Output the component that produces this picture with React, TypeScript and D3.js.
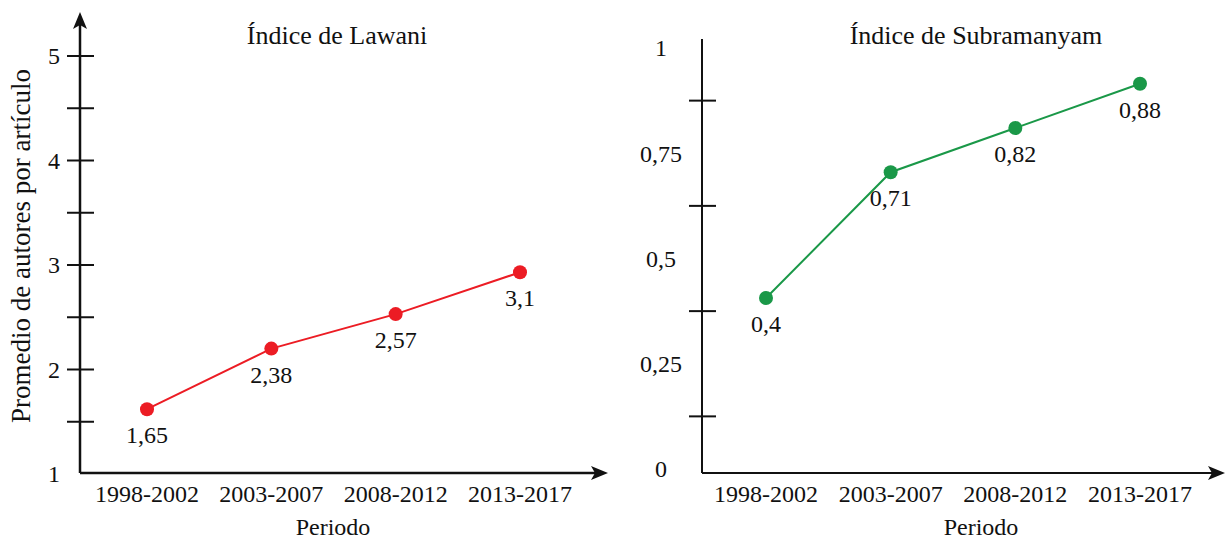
import React from "react";
import * as d3 from "d3";

const categories = ["1998-2002", "2003-2007", "2008-2012", "2013-2017"];

const lawaniValues = [1.62, 2.2, 2.53, 2.93];
const lawaniLabels = ["1,65", "2,38", "2,57", "3,1"];
const lawaniTickMarks = [1.5, 2, 2.5, 3, 3.5, 4, 4.5, 5];
const lawaniTickValues = [1, 2, 3, 4, 5];
const lawaniTickLabels = ["1", "2", "3", "4", "5"];

// Subramanyam
const subraValues = [0.406, 0.705, 0.81, 0.915];
const subraLabels = ["0,4", "0,71", "0,82", "0,88"];
const subraTickMarks = [0.125, 0.375, 0.625, 0.875];
const subraTickValues = [0, 0.25, 0.5, 0.75, 1];
const subraTickLabels = ["0", "0,25", "0,5", "0,75", "1"];

const FONT = "'Liberation Serif', 'Times New Roman', serif";
const RED = "#ec1c24";
const GREEN = "#1a9848";

type PanelProps = {
  title: string;
  titleX: number;
  periodX: number;
  axisX: number;
  axisBottom: number;
  axisTop: number;
  axisRight: number;
  arrowTop: boolean;
  xRange: [number, number];
  yDomain: [number, number];
  yRange: [number, number];
  values: number[];
  labels: string[];
  tickMarks: number[];
  tickValues: number[];
  tickLabels: string[];
  tickLabelX: number;
  color: string;
  lineWidth: number;
};

function Panel(p: PanelProps) {
  const x = d3.scalePoint<string>().domain(categories).range(p.xRange);
  const y = d3.scaleLinear().domain(p.yDomain).range(p.yRange);
  const line = d3
    .line<number>()
    .x((_, i) => x(categories[i]) as number)
    .y((d) => y(d));
  const ax = p.axisX;
  const ab = p.axisBottom;
  return (
    <g>
      <text x={p.titleX} y={44} textAnchor="middle" fontSize={26} fontFamily={FONT} fill="#111">
        {p.title}
      </text>
      {/* y axis */}
      <line x1={ax} y1={ab} x2={ax} y2={p.arrowTop ? p.axisTop + 12 : p.axisTop} stroke="#111" strokeWidth={p.lineWidth} />
      {p.arrowTop && (
        <path
          d={`M${ax},${p.axisTop} L${ax + 7},${p.axisTop + 17} L${ax},${p.axisTop + 13} L${ax - 7},${p.axisTop + 17} Z`}
          fill="#111"
        />
      )}
      {/* x axis */}
      <line x1={ax} y1={ab} x2={p.axisRight - 12} y2={ab} stroke="#111" strokeWidth={p.lineWidth} />
      <path
        d={`M${p.axisRight},${ab} L${p.axisRight - 17},${ab - 7} L${p.axisRight - 13},${ab} L${p.axisRight - 17},${ab + 7} Z`}
        fill="#111"
      />
      {p.tickMarks.map((t) => (
        <line key={t} x1={ax - 13} x2={ax + 14} y1={y(t)} y2={y(t)} stroke="#111" strokeWidth={2} />
      ))}
      {p.tickValues.map((t, i) => (
        <text
          key={t}
          x={p.tickLabelX}
          y={y(t)}
          dy="0.35em"
          textAnchor="middle"
          fontSize={24}
          fontFamily={FONT}
          fill="#111"
        >
          {p.tickLabels[i]}
        </text>
      ))}
      {categories.map((c) => (
        <text key={c} x={x(c)} y={ab + 29} textAnchor="middle" fontSize={24} fontFamily={FONT} fill="#111">
          {c}
        </text>
      ))}
      <text x={p.periodX} y={535} textAnchor="middle" fontSize={24} fontFamily={FONT} fill="#111">
        Periodo
      </text>
      <path d={line(p.values) ?? ""} fill="none" stroke={p.color} strokeWidth={2} />
      {p.values.map((v, i) => (
        <circle key={i} cx={x(categories[i])} cy={y(v)} r={7} fill={p.color} />
      ))}
      {p.values.map((v, i) => (
        <text
          key={"l" + i}
          x={x(categories[i])}
          y={y(v) + 34}
          textAnchor="middle"
          fontSize={24}
          fontFamily={FONT}
          fill="#111"
        >
          {p.labels[i]}
        </text>
      ))}
    </g>
  );
}

export default function App() {
  return (
    <svg
      width={1225}
      height={541}
      style={{ position: "absolute", left: 0, top: 0, background: "#fff" }}
    >
      <Panel
        title="Índice de Lawani"
        titleX={337}
        periodX={333}
        axisX={80}
        axisBottom={473}
        axisTop={12}
        axisRight={608}
        arrowTop={true}
        xRange={[147, 520]}
        yDomain={[1, 5]}
        yRange={[474, 56]}
        values={lawaniValues}
        labels={lawaniLabels}
        tickMarks={lawaniTickMarks}
        tickValues={lawaniTickValues}
        tickLabels={lawaniTickLabels}
        tickLabelX={54}
        color={RED}
        lineWidth={2.5}
      />
      <text
        transform="translate(30,246) rotate(-90)"
        textAnchor="middle"
        fontSize={27}
        fontFamily={FONT}
        fill="#111"
      >
        Promedio de autores por artículo
      </text>
      <Panel
        title="Índice de Subramanyam"
        titleX={976}
        periodX={981}
        axisX={702}
        axisBottom={473}
        axisTop={39}
        axisRight={1225}
        arrowTop={false}
        xRange={[766, 1140]}
        yDomain={[0, 1]}
        yRange={[469, 48]}
        values={subraValues}
        labels={subraLabels}
        tickMarks={subraTickMarks}
        tickValues={subraTickValues}
        tickLabels={subraTickLabels}
        tickLabelX={661}
        color={GREEN}
        lineWidth={2}
      />
    </svg>
  );
}
